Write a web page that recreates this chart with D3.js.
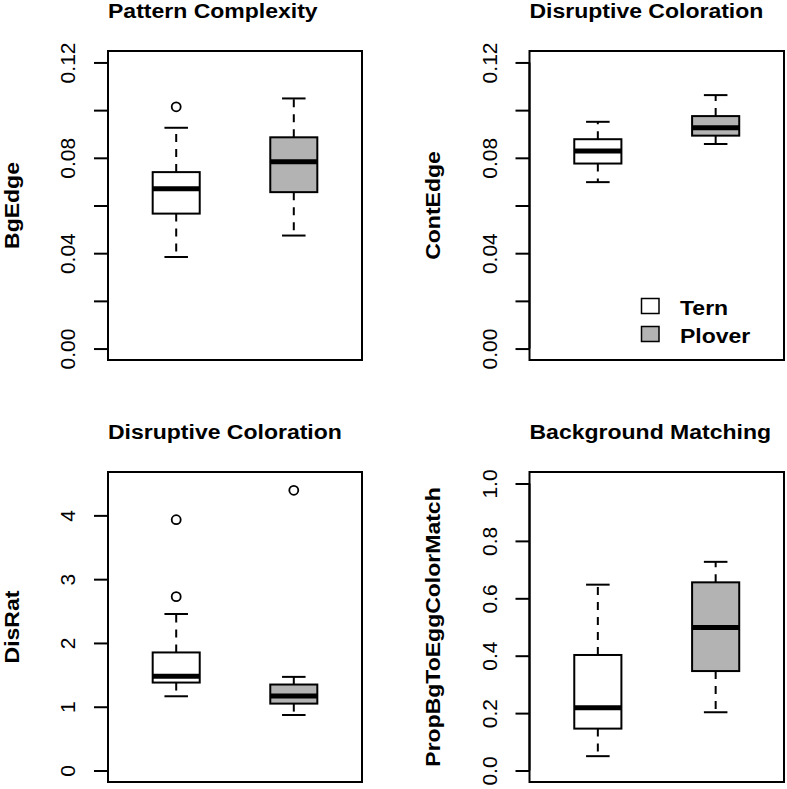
<!DOCTYPE html>
<html>
<head>
<meta charset="utf-8">
<script src="https://cdn.jsdelivr.net/npm/d3@7"></script>
<style>
  html, body { margin: 0; padding: 0; background: #fff; }
  svg { display: block; font-family: "Liberation Sans", Arial, Helvetica, sans-serif; }
</style>
</head>
<body>
<svg id="chart" width="787" height="789"></svg>
<script>
// ---------------- DATA ----------------
const groups = ["Tern", "Plover"];
const groupFills = ["#ffffff", "#b3b3b3"];

const panelTitles = ["Pattern Complexity", "Disruptive Coloration", "Disruptive Coloration", "Background Matching"];
const panelYLabels = ["BgEdge", "ContEdge", "DisRat", "PropBgToEggColorMatch"];
const panelYLimits = [[0, 0.12], [0, 0.12], [0, 4.5], [0, 1]];

// five-number summaries: [lower whisker, Q1, median, Q3, upper whisker]
const bgEdgeTern   = [0.0384, 0.0566, 0.0670, 0.0740, 0.0926];
const bgEdgePlover = [0.0474, 0.0656, 0.0784, 0.0886, 0.1049];
const bgEdgeOutTern   = [0.1014];
const bgEdgeOutPlover = [];

const contEdgeTern   = [0.0698, 0.0776, 0.0829, 0.0878, 0.0951];
const contEdgePlover = [0.0858, 0.0893, 0.0926, 0.0975, 0.1063];
const contEdgeOutTern   = [];
const contEdgeOutPlover = [];

const disRatTern   = [1.164, 1.379, 1.478, 1.851, 2.454];
const disRatPlover = [0.870, 1.049, 1.169, 1.348, 1.468];
const disRatOutTern   = [3.932, 2.726];
const disRatOutPlover = [4.393];

const propMatchTern   = [0.050, 0.146, 0.219, 0.4025, 0.6475];
const propMatchPlover = [0.203, 0.3465, 0.498, 0.6556, 0.727];
const propMatchOutTern   = [];
const propMatchOutPlover = [];

// tick values and which of them carry a label
const ticksEdge  = [0, 0.02, 0.04, 0.06, 0.08, 0.10, 0.12];
const labelsEdge = ["0.00", "", "0.04", "", "0.08", "", "0.12"];
const ticksDisRat  = [0, 1, 2, 3, 4];
const labelsDisRat = ["0", "1", "2", "3", "4"];
const ticksProp  = [0, 0.2, 0.4, 0.6, 0.8, 1.0];
const labelsProp = ["0.0", "0.2", "0.4", "0.6", "0.8", "1.0"];

// ---------------- LAYOUT ----------------
const panels = [
  { box: { left: 108, right: 362, top: 51, bottom: 360 },
    stats: [bgEdgeTern, bgEdgePlover], out: [bgEdgeOutTern, bgEdgeOutPlover],
    ticks: ticksEdge, labels: labelsEdge, legend: false },
  { box: { left: 529.5, right: 784, top: 51, bottom: 360 },
    stats: [contEdgeTern, contEdgePlover], out: [contEdgeOutTern, contEdgeOutPlover],
    ticks: ticksEdge, labels: labelsEdge, legend: true },
  { box: { left: 108, right: 362, top: 472, bottom: 782 },
    stats: [disRatTern, disRatPlover], out: [disRatOutTern, disRatOutPlover],
    ticks: ticksDisRat, labels: labelsDisRat, legend: false },
  { box: { left: 529.5, right: 784, top: 472, bottom: 782 },
    stats: [propMatchTern, propMatchPlover], out: [propMatchOutTern, propMatchOutPlover],
    ticks: ticksProp, labels: labelsProp, legend: false }
];

const svg = d3.select("#chart");
const LW = 2;
const BOLD_SIZE = 20;
const BOLD_STRETCH = 1.15;

// widen bold text along its reading direction, like the reference rendering
function stretch(sel) {
  sel.each(function () {
    const len = this.getComputedTextLength();
    d3.select(this).attr("textLength", len * BOLD_STRETCH).attr("lengthAdjust", "spacingAndGlyphs");
  });
  return sel;
}

panels.forEach((p, i) => {
  const b = p.box;
  const [lo, hi] = panelYLimits[i];
  const ext = (hi - lo) * 0.04;
  const y = d3.scaleLinear().domain([lo - ext, hi + ext]).range([b.bottom, b.top]);
  const x = d3.scaleLinear().domain([0.42, 2.58]).range([b.left, b.right]);
  const g = svg.append("g");

  // boxes
  p.stats.forEach((s, k) => {
    const cx = x(k + 1);
    const hw = x(k + 1.2) - cx;
    const cw = x(k + 1.1) - cx;
    const bg = g.append("g");
    bg.append("line").attr("x1", cx).attr("x2", cx).attr("y1", y(s[3])).attr("y2", y(s[4]))
      .attr("stroke", "#000").attr("stroke-width", LW).attr("stroke-dasharray", "8,7");
    bg.append("line").attr("x1", cx).attr("x2", cx).attr("y1", y(s[1])).attr("y2", y(s[0]))
      .attr("stroke", "#000").attr("stroke-width", LW).attr("stroke-dasharray", "8,7");
    [s[0], s[4]].forEach(v => {
      bg.append("line").attr("x1", cx - cw).attr("x2", cx + cw).attr("y1", y(v)).attr("y2", y(v))
        .attr("stroke", "#000").attr("stroke-width", LW);
    });
    bg.append("rect").attr("x", cx - hw).attr("width", 2 * hw)
      .attr("y", y(s[3])).attr("height", y(s[1]) - y(s[3]))
      .attr("fill", groupFills[k]).attr("stroke", "#000").attr("stroke-width", LW);
    bg.append("line").attr("x1", cx - hw).attr("x2", cx + hw).attr("y1", y(s[2])).attr("y2", y(s[2]))
      .attr("stroke", "#000").attr("stroke-width", 5);
    bg.selectAll("circle.o").data(p.out[k]).enter().append("circle")
      .attr("cx", cx).attr("cy", d => y(d)).attr("r", 4.5)
      .attr("fill", "none").attr("stroke", "#000").attr("stroke-width", 1.8);
  });

  // plot frame
  g.append("rect").attr("x", b.left).attr("y", b.top)
    .attr("width", b.right - b.left).attr("height", b.bottom - b.top)
    .attr("fill", "none").attr("stroke", "#000").attr("stroke-width", LW);

  // y axis
  const axis = d3.axisLeft(y).tickValues(p.ticks).tickSize(14).tickSizeOuter(0)
    .tickFormat((d, j) => p.labels[j]);
  const ag = g.append("g").attr("transform", `translate(${b.left},0)`).call(axis);
  ag.select(".domain").attr("stroke-width", LW).attr("d", `M0,${y(p.ticks[0])}V${y(p.ticks[p.ticks.length - 1])}`);
  ag.selectAll(".tick line").attr("stroke-width", LW);
  ag.selectAll(".tick text")
    .attr("x", null).attr("dy", null)
    .attr("text-anchor", "middle")
    .attr("transform", "translate(-33,0) rotate(-90)")
    .attr("font-size", 21).attr("fill", "#000")
    .attr("font-family", "'Liberation Sans', Arial, sans-serif");

  // title
  g.append("text").attr("x", b.left).attr("y", b.top - 33.5)
    .attr("font-size", BOLD_SIZE).attr("font-weight", "bold").text(panelTitles[i])
    .call(stretch);

  // y label
  const cy = (b.top + b.bottom) / 2;
  g.append("text").attr("transform", `translate(${b.left - 89.5},${cy}) rotate(-90)`)
    .attr("text-anchor", "middle").attr("font-size", BOLD_SIZE).attr("font-weight", "bold")
    .text(panelYLabels[i]).call(stretch);

  // legend
  if (p.legend) {
    const lx = b.left + 112, ly0 = 298.5, step = 28;
    groups.forEach((name, k) => {
      g.append("rect").attr("x", lx).attr("y", ly0 + k * step).attr("width", 17.5).attr("height", 15)
        .attr("fill", groupFills[k]).attr("stroke", "#000").attr("stroke-width", 1.5);
      g.append("text").attr("x", lx + 38.5).attr("y", ly0 + k * step + 16)
        .attr("font-size", BOLD_SIZE).attr("font-weight", "bold").text(name).call(stretch);
    });
  }
});
</script>
</body>
</html>
